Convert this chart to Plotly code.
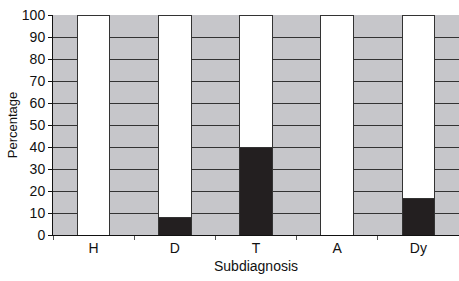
import plotly.graph_objects as go

categories = ["H", "D", "T", "A", "Dy"]
black_part = [0, 8, 40, 0, 16.7]
white_part = [100 - v for v in black_part]
y_ticks = list(range(0, 101, 10))

fig = go.Figure()
fig.add_trace(go.Bar(x=categories, y=black_part, marker=dict(color="#231f20", line=dict(color="#333333", width=1)),
                     showlegend=False))
fig.add_trace(go.Bar(x=categories, y=white_part, marker=dict(color="#ffffff", line=dict(color="#333333", width=1)),
                     showlegend=False))

fig.update_layout(
    barmode="stack",
    bargap=0.6,
    width=459, height=281,
    margin=dict(l=53, r=0, t=15, b=46),
    paper_bgcolor="white",
    plot_bgcolor="#c6c6ca",
    font=dict(family="Liberation Sans, Arial, sans-serif", size=14, color="#111111"),
    xaxis=dict(
        title=dict(text="Subdiagnosis", standoff=6, font=dict(size=14)),
        ticks="outside", tickson="boundaries", ticklen=4, tickcolor="#555555",
        showline=True, linecolor="#111111", linewidth=1,
        showgrid=False, range=[-0.5, 4.5],
    ),
    yaxis=dict(
        title=dict(text="Percentage", standoff=1, font=dict(size=13)),
        range=[0, 100], tickvals=y_ticks,
        ticks="outside", ticklen=4, tickcolor="#111111",
        showline=True, linecolor="#111111", linewidth=1,
        showgrid=True, gridcolor="#333333", gridwidth=1,
        zeroline=False,
    ),
)

fig.write_html("out.html", config={"displayModeBar": False},
               post_script="document.body.style.margin='0';document.body.style.overflow='hidden';")
